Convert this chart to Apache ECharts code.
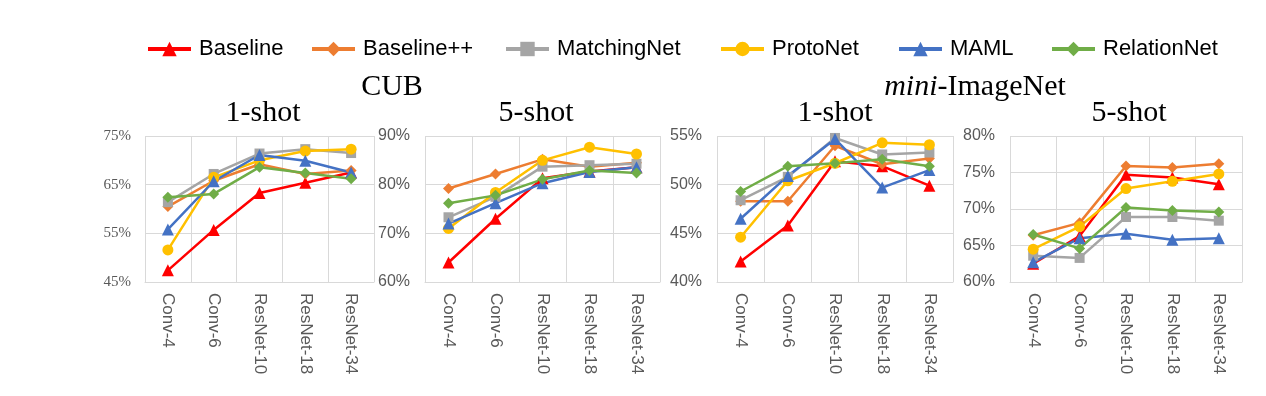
<!DOCTYPE html>
<html>
<head>
<meta charset="utf-8">
<script src="https://cdn.jsdelivr.net/npm/echarts@6/dist/echarts.min.js"></script>
<style>
html, body { margin: 0; padding: 0; background: #fff; }
#chart { width: 1266px; height: 396px; }
</style>
</head>
<body>
<div id="chart"></div>
<script>
var backbones = ['Conv-4', 'Conv-6', 'ResNet-10', 'ResNet-18', 'ResNet-34']
var methods = ['Baseline', 'Baseline++', 'MatchingNet', 'ProtoNet', 'MAML', 'RelationNet']

// one row per method, same order as methods
var cub1Shot = [
  [47.4, 55.7, 63.3, 65.4, 67.5],
  [60.5, 65.8, 69.2, 67.2, 67.9],
  [61.4, 67.2, 71.4, 72.3, 71.5],
  [51.6, 66.5, 70.0, 71.9, 72.3],
  [55.8, 65.7, 71.1, 69.9, 67.5],
  [62.4, 63.1, 68.6, 67.4, 66.2]
]
var cub5Shot = [
  [64.0, 73.0, 81.3, 82.7, 83.6],
  [79.2, 82.2, 85.2, 83.7, 84.5],
  [73.3, 77.5, 83.7, 84.0, 84.3],
  [71.0, 78.4, 85.0, 87.7, 86.3],
  [72.0, 76.2, 80.3, 82.6, 83.6],
  [76.2, 77.8, 81.1, 82.9, 82.4]
]
var mini1Shot = [
  [42.1, 45.8, 52.4, 51.9, 49.9],
  [48.3, 48.3, 54.0, 52.1, 52.7],
  [48.4, 50.8, 54.8, 53.1, 53.3],
  [44.6, 50.4, 52.2, 54.3, 54.1],
  [46.5, 50.9, 54.7, 49.7, 51.5],
  [49.3, 51.9, 52.2, 52.6, 51.9]
]
var mini5Shot = [
  [62.5, 66.3, 74.7, 74.3, 73.4],
  [66.4, 68.1, 75.9, 75.7, 76.2],
  [63.6, 63.3, 68.9, 68.9, 68.4],
  [64.5, 67.6, 72.8, 73.8, 74.8],
  [62.7, 66.0, 66.6, 65.8, 66.0],
  [66.5, 64.6, 70.2, 69.8, 69.6]
]

var colors = ['#FF0000', '#ED7D31', '#A5A5A5', '#FFC000', '#4472C4', '#70AD47']
var symbols = ['triangle', 'diamond', 'rect', 'circle', 'triangle', 'diamond']
var symbolSizes = [12, 11, 10, 11, 12, 11]

var panels = [
  {data: cub1Shot, min: 45, max: 75, interval: 10, left: 145, width: 229, serif: true},
  {data: cub5Shot, min: 60, max: 90, interval: 10, left: 425, width: 235},
  {data: mini1Shot, min: 40, max: 55, interval: 5, left: 717, width: 236},
  {data: mini5Shot, min: 60, max: 80, interval: 5, left: 1010, width: 232}
]

var gridColor = '#D9D9D9'
var labelColor = '#595959'
var serifFont = '"Liberation Serif", "Times New Roman", serif'
var sansFont = '"Liberation Sans", Arial, sans-serif'

var grids = [], xAxes = [], yAxes = [], series = []
panels.forEach(function (p, i) {
  grids.push({left: p.left, top: 136, width: p.width, height: 146})
  xAxes.push({
    type: 'category',
    gridIndex: i,
    data: backbones,
    boundaryGap: true,
    axisTick: {show: false},
    axisLine: {lineStyle: {color: gridColor, width: 1}},
    splitLine: {show: true, lineStyle: {color: gridColor, width: 1}},
    axisLabel: {rotate: -90, interval: 0, margin: 11, color: labelColor, fontSize: 17, fontFamily: sansFont}
  })
  yAxes.push({
    type: 'value',
    gridIndex: i,
    min: p.min,
    max: p.max,
    interval: p.interval,
    axisLine: {show: false},
    axisTick: {show: false},
    splitLine: {lineStyle: {color: gridColor, width: 1}},
    axisLabel: {
      formatter: '{value}%',
      margin: p.serif ? 14 : 15,
      color: labelColor,
      fontSize: p.serif ? 15 : 16,
      fontFamily: p.serif ? serifFont : sansFont
    }
  })
  methods.forEach(function (m, j) {
    series.push({
      name: m,
      type: 'line',
      xAxisIndex: i,
      yAxisIndex: i,
      data: p.data[j],
      symbol: symbols[j],
      symbolSize: symbolSizes[j],
      showAllSymbol: true,
      animation: false,
      itemStyle: {color: colors[j]},
      lineStyle: {color: colors[j], width: 2.5}
    })
  })
})

// legend items placed one by one to follow the reference spacing
var legendLefts = [146, 310, 504, 719, 897, 1050]
var legends = methods.map(function (m, j) {
  return {
    data: [m],
    left: legendLefts[j],
    top: 38,
    padding: 0,
    itemWidth: 43,
    itemHeight: 18,
    lineStyle: {width: 4},
    textStyle: {fontSize: 22, color: '#000', fontFamily: sansFont, padding: [0, 0, 0, 3]}
  }
})

function titleAt(text, x, y, extra) {
  var t = {
    text: text,
    left: x,
    top: y,
    padding: 0,
    textAlign: 'center',
    textStyle: {fontSize: 30, fontWeight: 'normal', color: '#000', fontFamily: serifFont}
  }
  if (extra) t.textStyle.rich = extra
  return t
}

var chart = echarts.init(document.getElementById('chart'))
var option = {
  animation: false,
  title: [
    titleAt('CUB', 392, 72),
    titleAt('{i|mini}-ImageNet', 975, 72, {
      i: {fontStyle: 'italic', fontSize: 30, fontFamily: serifFont, color: '#000'}
    }),
    titleAt('1-shot', 263, 98),
    titleAt('5-shot', 536, 98),
    titleAt('1-shot', 835, 98),
    titleAt('5-shot', 1129, 98)
  ],
  legend: legends,
  grid: grids,
  xAxis: xAxes,
  yAxis: yAxes,
  series: series
}
chart.setOption(option)
</script>
</body>
</html>
